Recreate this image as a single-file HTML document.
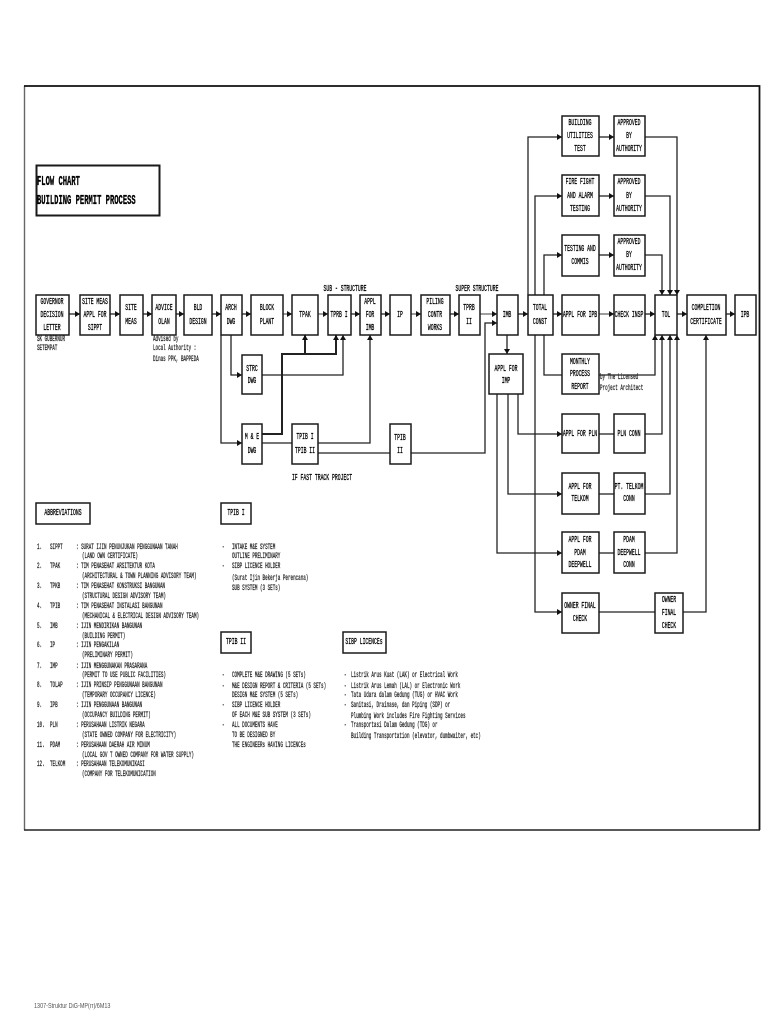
<!DOCTYPE html>
<html lang="en"><head><meta charset="utf-8"><title>Flow Chart - Building Permit Process</title>
<style>
html,body{margin:0;padding:0;background:#fff;width:768px;height:1024px;overflow:hidden}
#p{position:relative;width:768px;height:1024px;background:#fff;overflow:hidden}
svg{position:absolute;left:0;top:0;filter:blur(.2px)}
#t{position:absolute;left:0;top:0;width:768px;height:1024px;filter:blur(.35px)}
#t i{position:absolute;font:normal 9px/10px "Liberation Mono",monospace;color:#000;white-space:pre;margin-top:-5px;-webkit-text-stroke:.3px #000}
#t i.c{transform:translateX(-50%) scale(.53,1)}
#t i.l{transform-origin:0 50%;transform:scale(.53,1)}
#t i.s{font-size:8px;transform-origin:0 50%;transform:scale(.53,1);color:#222;-webkit-text-stroke:.25px #222}
#t i.h{font-weight:bold;font-size:13px;line-height:14px;margin-top:-7px;transform-origin:0 50%;transform:scale(.55,1.05)}
#t i.f{font:7px/10px "Liberation Sans",sans-serif;color:#555;transform-origin:0 50%;transform:scale(.78,1);-webkit-text-stroke:0}
</style></head><body><div id="p">
<svg width="768" height="1024" viewBox="0 0 768 1024" xmlns="http://www.w3.org/2000/svg">
<defs><marker id="a" markerUnits="userSpaceOnUse" markerWidth="5" markerHeight="6" refX="5" refY="3" orient="auto"><path d="M0 0L5 3L0 6z" fill="#111"/></marker></defs>
<path d="M24.5 86V830" stroke="#666" stroke-width="1.4" fill="none"/>
<path d="M24 86H759.5V830" stroke="#111" stroke-width="1.8" fill="none"/>
<path d="M24 830H760" stroke="#222" stroke-width="1.6" fill="none"/>
<g fill="none" stroke="#222" stroke-width="1.3" marker-end="url(#a)">
<path d="M69 314H80"/><path d="M110 314H120"/><path d="M143 314H152"/><path d="M176 314H184"/><path d="M212 314H221"/><path d="M242 314H251"/><path d="M283 314H292" stroke="#666"/><path d="M318 314H328" stroke="#666"/><path d="M351 314H360"/><path d="M381 314H390"/><path d="M411 314H421" stroke="#666"/><path d="M450 314H459"/><path d="M480 314H497" stroke="#666"/><path d="M518 314H528"/><path d="M553 314H562"/><path d="M599 314H614" stroke="#666"/><path d="M645 314H655"/><path d="M677 314H687"/><path d="M726 314H735"/>
<path d="M231 335V375H242"/><path d="M221 335V443H242"/>
<path d="M262 375H343V335"/>
<path d="M262 434H282V354H336V335" stroke-width="2"/>
<path d="M305 354V335" stroke-width="2"/>
<path d="M318 443H370V335"/>
<path d="M318 453H390" marker-end="none"/>
<path d="M411 453H485V323H497"/>
<path d="M507 335V354"/>
<path d="M528 295V137H562"/><path d="M535 295V196H562"/><path d="M544 295V255H562"/>
<path d="M599 137H614"/><path d="M599 196H614"/><path d="M599 255H614"/>
<path d="M645 137H677V295"/><path d="M645 196H670V295"/><path d="M645 255H662V295"/>
<path d="M544 335V375H562" marker-end="none"/>
<path d="M599 375H655V335"/>
<path d="M535 335V612H562"/>
<path d="M518 394V434H562"/><path d="M508 394V494H562"/><path d="M497 394V553H562"/>
<path d="M599 434H614" marker-end="none"/><path d="M599 494H614" marker-end="none"/><path d="M599 553H614" marker-end="none"/>
<path d="M645 434H662V335"/><path d="M645 494H670V335"/><path d="M645 553H677V335"/>
<path d="M599 612H655" marker-end="none"/>
<path d="M683 612H706V335"/>
<path d="M262 443H292" marker-end="none"/>
</g>
<g fill="#fff" stroke="#1a1a1a" stroke-width="1.5">
<rect x="36.5" y="165.5" width="123" height="50" stroke-width="2"/>
<rect x="36" y="295" width="33" height="40"/><rect x="80" y="295" width="30" height="40"/><rect x="120" y="295" width="23" height="40"/><rect x="152" y="295" width="24" height="40"/><rect x="184" y="295" width="28" height="40"/><rect x="221" y="295" width="21" height="40"/><rect x="251" y="295" width="32" height="40"/><rect x="292" y="295" width="26" height="40"/><rect x="328" y="295" width="23" height="40"/><rect x="360" y="295" width="21" height="40"/><rect x="390" y="295" width="21" height="40"/><rect x="421" y="295" width="29" height="40"/><rect x="459" y="295" width="21" height="40"/><rect x="497" y="295" width="21" height="40"/><rect x="528" y="295" width="25" height="40"/><rect x="562" y="295" width="37" height="40"/><rect x="614" y="295" width="31" height="40"/><rect x="655" y="295" width="22" height="40"/><rect x="687" y="295" width="39" height="40"/><rect x="735" y="295" width="21" height="40"/>
<rect x="562" y="116" width="37" height="40"/><rect x="614" y="116" width="31" height="40"/>
<rect x="562" y="175" width="37" height="41"/><rect x="614" y="175" width="31" height="41"/>
<rect x="562" y="235" width="37" height="41"/><rect x="614" y="235" width="31" height="41"/>
<rect x="562" y="354" width="37" height="40"/><rect x="489" y="354" width="34" height="40"/>
<rect x="562" y="414" width="37" height="39"/><rect x="614" y="414" width="31" height="39"/>
<rect x="562" y="473" width="37" height="41"/><rect x="614" y="473" width="31" height="41"/>
<rect x="562" y="532" width="37" height="41"/><rect x="614" y="532" width="31" height="41"/>
<rect x="562" y="593" width="37" height="40"/><rect x="655" y="593" width="28" height="40"/>
<rect x="242" y="355" width="20" height="39"/><rect x="242" y="424" width="20" height="40"/><rect x="292" y="424" width="26" height="40"/><rect x="390" y="424" width="21" height="40"/>
<rect x="36" y="503" width="54" height="21"/><rect x="221" y="503" width="30" height="21"/><rect x="221" y="632" width="30" height="21"/><rect x="343" y="632" width="43" height="21"/>
</g>
</svg>
<div id="t">
<i class="h" style="left:37px;top:182px">FLOW CHART</i>
<i class="h" style="left:37px;top:201px">BUILDING PERMIT PROCESS</i>
<i class="c" style="left:52px;top:302px">GOVERNOR</i><i class="c" style="left:52px;top:315px">DECISION</i><i class="c" style="left:52px;top:328px">LETTER</i>
<i class="c" style="left:95px;top:302px">SITE MEAS</i><i class="c" style="left:95px;top:315px">APPL FOR</i><i class="c" style="left:95px;top:328px">SIPPT</i>
<i class="c" style="left:131px;top:308px">SITE</i><i class="c" style="left:131px;top:322px">MEAS</i>
<i class="c" style="left:164px;top:308px">ADVICE</i><i class="c" style="left:164px;top:322px">OLAN</i>
<i class="c" style="left:198px;top:308px">BLD</i><i class="c" style="left:198px;top:322px">DESIGN</i>
<i class="c" style="left:231px;top:308px">ARCH</i><i class="c" style="left:231px;top:322px">DWG</i>
<i class="c" style="left:267px;top:308px">BLOCK</i><i class="c" style="left:267px;top:322px">PLANT</i>
<i class="c" style="left:305px;top:315px">TPAK</i>
<i class="c" style="left:339px;top:315px">TPRB I</i>
<i class="c" style="left:370px;top:302px">APPL</i><i class="c" style="left:370px;top:315px">FOR</i><i class="c" style="left:370px;top:328px">IMB</i>
<i class="c" style="left:400px;top:315px">IP</i>
<i class="c" style="left:435px;top:302px">PILING</i><i class="c" style="left:435px;top:315px">CONTR</i><i class="c" style="left:435px;top:328px">WORKS</i>
<i class="c" style="left:469px;top:308px">TPRB</i><i class="c" style="left:469px;top:322px">II</i>
<i class="c" style="left:507px;top:315px">IMB</i>
<i class="c" style="left:540px;top:308px">TOTAL</i><i class="c" style="left:540px;top:322px">CONST</i>
<i class="c" style="left:580px;top:315px">APPL FOR IPB</i>
<i class="c" style="left:629px;top:315px">CHECK INSP</i>
<i class="c" style="left:666px;top:315px">TOL</i>
<i class="c" style="left:706px;top:308px">COMPLETION</i><i class="c" style="left:706px;top:322px">CERTIFICATE</i>
<i class="c" style="left:745px;top:315px">IPB</i>
<i class="c" style="left:580px;top:123px">BUILDING</i><i class="c" style="left:580px;top:136px">UTILITIES</i><i class="c" style="left:580px;top:149px">TEST</i>
<i class="c" style="left:629px;top:123px">APPROVED</i><i class="c" style="left:629px;top:136px">BY</i><i class="c" style="left:629px;top:149px">AUTHORITY</i>
<i class="c" style="left:580px;top:182px">FIRE FIGHT</i><i class="c" style="left:580px;top:196px">AND ALARM</i><i class="c" style="left:580px;top:209px">TESTING</i>
<i class="c" style="left:629px;top:182px">APPROVED</i><i class="c" style="left:629px;top:196px">BY</i><i class="c" style="left:629px;top:209px">AUTHORITY</i>
<i class="c" style="left:580px;top:249px">TESTING AND</i><i class="c" style="left:580px;top:262px">COMMIS</i>
<i class="c" style="left:629px;top:242px">APPROVED</i><i class="c" style="left:629px;top:255px">BY</i><i class="c" style="left:629px;top:268px">AUTHORITY</i>
<i class="c" style="left:580px;top:362px">MONTHLY</i><i class="c" style="left:580px;top:374px">PROCESS</i><i class="c" style="left:580px;top:387px">REPORT</i>
<i class="c" style="left:506px;top:369px">APPL FOR</i><i class="c" style="left:506px;top:381px">IMP</i>
<i class="c" style="left:580px;top:434px">APPL FOR PLN</i><i class="c" style="left:629px;top:434px">PLN CONN</i>
<i class="c" style="left:580px;top:487px">APPL FOR</i><i class="c" style="left:580px;top:499px">TELKOM</i>
<i class="c" style="left:629px;top:487px">PT. TELKOM</i><i class="c" style="left:629px;top:499px">CONN</i>
<i class="c" style="left:580px;top:540px">APPL FOR</i><i class="c" style="left:580px;top:553px">PDAM</i><i class="c" style="left:580px;top:565px">DEEPWELL</i>
<i class="c" style="left:629px;top:540px">PDAM</i><i class="c" style="left:629px;top:553px">DEEPWELL</i><i class="c" style="left:629px;top:565px">CONN</i>
<i class="c" style="left:580px;top:606px">OWNER FINAL</i><i class="c" style="left:580px;top:619px">CHECK</i>
<i class="c" style="left:669px;top:600px">OWNER</i><i class="c" style="left:669px;top:613px">FINAL</i><i class="c" style="left:669px;top:626px">CHECK</i>
<i class="c" style="left:252px;top:369px">STRC</i><i class="c" style="left:252px;top:381px">DWG</i>
<i class="c" style="left:252px;top:437px">M &amp; E</i><i class="c" style="left:252px;top:451px">DWG</i>
<i class="c" style="left:305px;top:437px">TPIB I</i><i class="c" style="left:305px;top:451px">TPIB II</i>
<i class="c" style="left:400px;top:438px">TPIB</i><i class="c" style="left:400px;top:451px">II</i>
<i class="c" style="left:345px;top:289px">SUB - STRUCTURE</i>
<i class="c" style="left:477px;top:289px">SUPER STRUCTURE</i>
<i class="c" style="left:322px;top:478px">IF FAST TRACK PROJECT</i>
<i class="s" style="left:37px;top:340px">SK GUBERNUR</i><i class="s" style="left:37px;top:349px">SETEMPAT</i>
<i class="s" style="left:153px;top:340px">Advised by</i><i class="s" style="left:153px;top:349px">Local Authority :</i><i class="s" style="left:153px;top:360px">Dinas PPK, BAPPEDA</i>
<i class="s" style="left:600px;top:378px">by The Licensed</i><i class="s" style="left:600px;top:389px">Project Architect</i>
<i class="c" style="left:63px;top:513px">ABBREVIATIONS</i>
<i class="c" style="left:236px;top:513px">TPIB I</i>
<i class="c" style="left:236px;top:642px">TPIB II</i>
<i class="c" style="left:364px;top:642px">SIBP LICENCEs</i>
<i class="s" style="left:37px;top:548px">1.</i><i class="s" style="left:50px;top:548px">SIPPT</i><i class="s" style="left:76px;top:548px">: SURAT IJIN PENUNJUKAN PENGGUNAAN TANAH</i><i class="s" style="left:82px;top:557px">(LAND OWN CERTIFICATE)</i>
<i class="s" style="left:37px;top:567px">2.</i><i class="s" style="left:50px;top:567px">TPAK</i><i class="s" style="left:76px;top:567px">: TIM PENASEHAT ARSITEKTUR KOTA</i><i class="s" style="left:82px;top:577px">(ARCHITECTURAL &amp; TOWN PLANNING ADVISORY TEAM)</i>
<i class="s" style="left:37px;top:587px">3.</i><i class="s" style="left:50px;top:587px">TPKB</i><i class="s" style="left:76px;top:587px">: TIM PENASEHAT KONSTRUKSI BANGUNAN</i><i class="s" style="left:82px;top:597px">(STRUCTURAL DESIGN ADVISORY TEAM)</i>
<i class="s" style="left:37px;top:607px">4.</i><i class="s" style="left:50px;top:607px">TPIB</i><i class="s" style="left:76px;top:607px">: TIM PENASEHAT INSTALASI BANGUNAN</i><i class="s" style="left:82px;top:617px">(MECHANICAL &amp; ELECTRICAL DESIGN ADVISORY TEAM)</i>
<i class="s" style="left:37px;top:627px">5.</i><i class="s" style="left:50px;top:627px">IMB</i><i class="s" style="left:76px;top:627px">: IJIN MENDIRIKAN BANGUNAN</i><i class="s" style="left:82px;top:637px">(BUILDING PERMIT)</i>
<i class="s" style="left:37px;top:646px">6.</i><i class="s" style="left:50px;top:646px">IP</i><i class="s" style="left:76px;top:646px">: IJIN PENGAKILAN</i><i class="s" style="left:82px;top:656px">(PRELIMINARY PERMIT)</i>
<i class="s" style="left:37px;top:667px">7.</i><i class="s" style="left:50px;top:667px">IMP</i><i class="s" style="left:76px;top:667px">: IJIN MENGGUNAKAN PRASARANA</i><i class="s" style="left:82px;top:676px">(PERMIT TO USE PUBLIC FACILITIES)</i>
<i class="s" style="left:37px;top:686px">8.</i><i class="s" style="left:50px;top:686px">TOLAP</i><i class="s" style="left:76px;top:686px">: IJIN PRINSIP PENGGUNAAN BANGUNAN</i><i class="s" style="left:82px;top:696px">(TEMPORARY OCCUPANCY LICENCE)</i>
<i class="s" style="left:37px;top:706px">9.</i><i class="s" style="left:50px;top:706px">IPB</i><i class="s" style="left:76px;top:706px">: IJIN PENGGUNAAN BANGUNAN</i><i class="s" style="left:82px;top:716px">(OCCUPANCY BUILDING PERMIT)</i>
<i class="s" style="left:37px;top:726px">10.</i><i class="s" style="left:50px;top:726px">PLN</i><i class="s" style="left:76px;top:726px">: PERUSAHAAN LISTRIK NEGARA</i><i class="s" style="left:82px;top:736px">(STATE OWNED COMPANY FOR ELECTRICITY)</i>
<i class="s" style="left:37px;top:746px">11.</i><i class="s" style="left:50px;top:746px">PDAM</i><i class="s" style="left:76px;top:746px">: PERUSAHAAN DAERAH AIR MINUM</i><i class="s" style="left:82px;top:756px">(LOCAL GOV T OWNED COMPANY FOR WATER SUPPLY)</i>
<i class="s" style="left:37px;top:765px">12.</i><i class="s" style="left:50px;top:765px">TELKOM</i><i class="s" style="left:76px;top:765px">: PERUSAHAAN TELEKOMUNIKASI</i><i class="s" style="left:82px;top:775px">(COMPANY FOR TELEKOMUNICATION</i>
<i class="s" style="left:222px;top:548px">-</i><i class="s" style="left:232px;top:548px">INTAKE M&amp;E SYSTEM</i><i class="s" style="left:232px;top:557px">OUTLINE PRELIMINARY</i>
<i class="s" style="left:222px;top:567px">-</i><i class="s" style="left:232px;top:567px">SIBP LICENCE HOLDER</i><i class="s" style="left:232px;top:579px">(Surat Ijin Bekerja Perencana)</i><i class="s" style="left:232px;top:589px">SUB SYSTEM (3 SETs)</i>
<i class="s" style="left:222px;top:676px">-</i><i class="s" style="left:232px;top:676px">COMPLETE M&amp;E DRAWING (5 SETs)</i>
<i class="s" style="left:222px;top:687px">-</i><i class="s" style="left:232px;top:687px">M&amp;E DESIGN REPORT &amp; CRITERIA (5 SETs)</i><i class="s" style="left:232px;top:696px">DESIGN M&amp;E SYSTEM (5 SETs)</i>
<i class="s" style="left:222px;top:706px">-</i><i class="s" style="left:232px;top:706px">SIBP LICENCE HOLDER</i><i class="s" style="left:232px;top:716px">OF EACH M&amp;E SUB SYSTEM (3 SETs)</i>
<i class="s" style="left:222px;top:726px">-</i><i class="s" style="left:232px;top:726px">ALL DOCUMENTS HAVE</i><i class="s" style="left:232px;top:736px">TO BE DESIGNED BY</i><i class="s" style="left:232px;top:746px">THE ENGINEERs HAVING LICENCEs</i>
<i class="s" style="left:344px;top:676px">-</i><i class="s" style="left:351px;top:676px">Listrik Arus Kuat (LAK) or Electrical Work</i>
<i class="s" style="left:344px;top:687px">-</i><i class="s" style="left:351px;top:687px">Listrik Arus Lemah (LAL) or Electronic Work</i>
<i class="s" style="left:344px;top:696px">-</i><i class="s" style="left:351px;top:696px">Tata Udara dalam Gedung (TUG) or HVAC Work</i>
<i class="s" style="left:344px;top:706px">-</i><i class="s" style="left:351px;top:706px">Sanitasi, Drainase, dan Piping (SDP) or</i><i class="s" style="left:351px;top:717px">Plumbing Work includes Fire Fighting Services</i>
<i class="s" style="left:344px;top:726px">-</i><i class="s" style="left:351px;top:726px">Transportasi Dalam Gedung (TDG) or</i><i class="s" style="left:351px;top:737px">Building Transportation (elevator, dumbwaiter, etc)</i>
<i class="f" style="left:34px;top:1007px">1307-Struktur DiG-MP(rr)/6M13</i>
</div>
</div></body></html>
